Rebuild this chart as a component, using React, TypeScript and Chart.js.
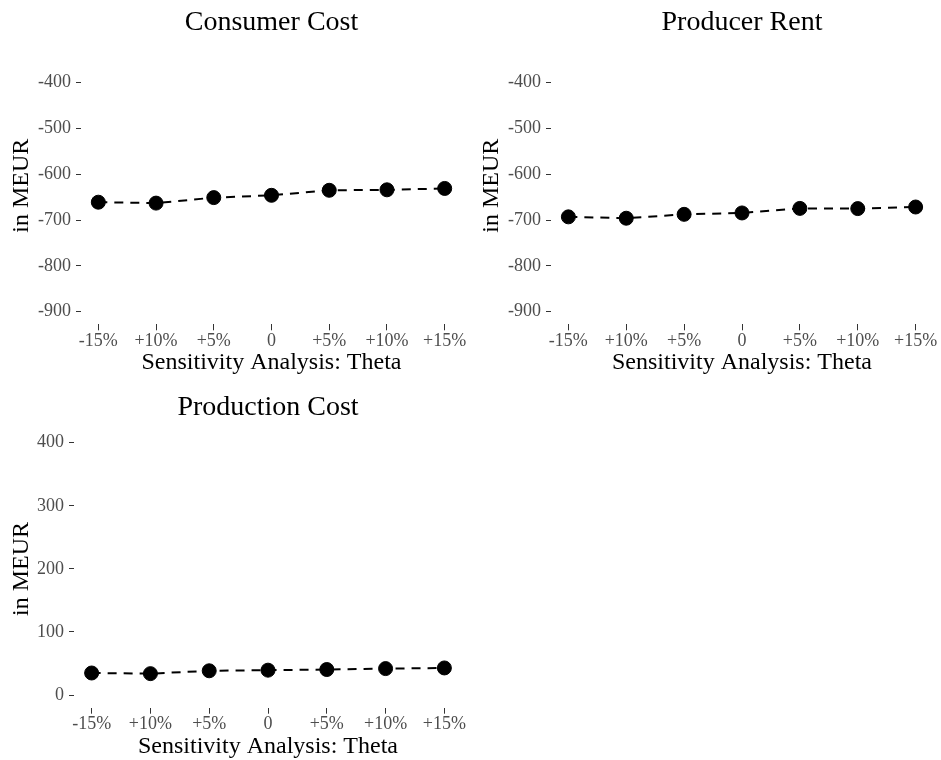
import React, { useEffect, useRef } from "react";
import { Chart, registerables } from "chart.js";

Chart.register(...registerables);

// ---- data ----
const thetaLabels = ["-15%", "+10%", "+5%", "0", "+5%", "+10%", "+15%"];
const consumerCost = [-661, -663, -651, -646, -635, -634, -631];
const producerRent = [-693, -696, -687.5, -684.5, -674.5, -675, -671.5];
const productionCost = [35, 34, 38.5, 39.5, 40.5, 42, 43];
const negTicks = [-900, -800, -700, -600, -500, -400];
const posTicks = [0, 100, 200, 300, 400];
const xTitle = "Sensitivity Analysis: Theta";
const yTitle = "in MEUR";

const FONT = '"Liberation Serif", "Times New Roman", serif';

const panelTitlePlugin = {
  id: "panelTitle",
  afterDraw(chart: any, _args: any, opts: any) {
    const { ctx, chartArea } = chart;
    ctx.save();
    ctx.font = `28px ${FONT}`;
    ctx.fillStyle = "#000";
    ctx.textAlign = "center";
    ctx.textBaseline = "middle";
    ctx.fillText(opts.text, (chartArea.left + chartArea.right) / 2, opts.y);
    ctx.restore();
  },
};

type PanelProps = {
  title: string;
  values: number[];
  yTicks: number[];
  yMin: number;
  yMax: number;
  yAxisWidth: number;
  chartTop: number;
  chartBottom: number;
  titleY: number;
  xTitlePadBottom: number;
  width: number;
  height: number;
  left: number;
  top: number;
};

function Panel(p: PanelProps) {
  const ref = useRef<HTMLCanvasElement | null>(null);
  useEffect(() => {
    if (!ref.current) return;
    const chart = new Chart(ref.current, {
      type: "scatter",
      data: {
        datasets: [
          {
            data: p.values.map((v, i) => ({ x: i, y: v })),
            showLine: true,
            borderColor: "#000",
            borderWidth: 2,
            borderDash: [9, 7],
            pointRadius: 7,
            pointBorderWidth: 1,
            pointBackgroundColor: "#000",
            pointBorderColor: "#000",
          },
        ],
      },
      plugins: [panelTitlePlugin as any],
      options: {
        responsive: false,
        animation: false,
        events: [],
        layout: { padding: { top: p.chartTop, left: 0, right: 7, bottom: 0 } },
        plugins: {
          legend: { display: false },
          tooltip: { enabled: false },
          title: { display: false },
          panelTitle: { text: p.title, y: p.titleY },
        } as any,
        scales: {
          x: {
            type: "linear",
            min: -0.3,
            max: thetaLabels.length - 1 + 0.3,
            afterBuildTicks: (scale: any) => {
              scale.ticks = thetaLabels.map((_, i) => ({ value: i }));
            },
            afterFit: (scale: any) => {
              scale.height = p.height - p.chartBottom;
            },
            border: { display: false },
            grid: {
              drawOnChartArea: false,
              drawTicks: true,
              tickLength: 6,
              color: "#333333",
              lineWidth: 1,
            },
            ticks: {
              autoSkip: false,
              maxRotation: 0,
              padding: 2,
              color: "#4d4d4d",
              font: { family: FONT, size: 18, lineHeight: 1 },
              callback: (v: any) => thetaLabels[v as number] ?? "",
            },
            title: {
              display: true,
              text: xTitle,
              color: "#000",
              font: { family: FONT, size: 24, lineHeight: 1.2 },
              padding: { top: 0, bottom: p.xTitlePadBottom },
            },
          },
          y: {
            type: "linear",
            min: p.yMin,
            max: p.yMax,
            afterBuildTicks: (scale: any) => {
              scale.ticks = p.yTicks.map((v) => ({ value: v }));
            },
            afterFit: (scale: any) => {
              scale.width = p.yAxisWidth;
            },
            border: { display: false },
            grid: {
              drawOnChartArea: false,
              drawTicks: true,
              tickLength: 5,
              color: "#333333",
              lineWidth: 1,
            },
            ticks: {
              padding: 5,
              color: "#4d4d4d",
              font: { family: FONT, size: 18, lineHeight: 1 },
              callback: (v: any) => String(v),
            },
            title: {
              display: true,
              text: yTitle,
              color: "#000",
              font: { family: FONT, size: 24, lineHeight: 1.2 },
              padding: { top: 7.6, bottom: 0 },
            },
          },
        },
      } as any,
    });
    return () => chart.destroy();
  }, []);
  return (
    <div style={{ position: "absolute", left: p.left, top: p.top, width: p.width, height: p.height }}>
      <canvas ref={ref} width={p.width} height={p.height} style={{ display: "block" }} />
    </div>
  );
}

export default function App() {
  return (
    <div style={{ position: "absolute", left: 0, top: 0, width: 941, height: 760, background: "#fff" }}>
      <Panel
        title="Consumer Cost"
        values={consumerCost}
        yTicks={negTicks}
        yMin={-927.5}
        yMax={-322.5}
        yAxisWidth={81}
        chartTop={47.1}
        chartBottom={324.3}
        titleY={22.2}
        xTitlePadBottom={2.5}
        width={470}
        height={380}
        left={0}
        top={0}
      />
      <Panel
        title="Producer Rent"
        values={producerRent}
        yTicks={negTicks}
        yMin={-927.5}
        yMax={-322.5}
        yAxisWidth={81}
        chartTop={47.1}
        chartBottom={324.3}
        titleY={22.2}
        xTitlePadBottom={2.5}
        width={471}
        height={380}
        left={470}
        top={0}
      />
      <Panel
        title="Production Cost"
        values={productionCost}
        yTicks={posTicks}
        yMin={-20}
        yMax={420}
        yAxisWidth={74}
        chartTop={50.1}
        chartBottom={327.7}
        titleY={27.5}
        xTitlePadBottom={-1}
        width={470}
        height={380}
        left={0}
        top={380}
      />
    </div>
  );
}
